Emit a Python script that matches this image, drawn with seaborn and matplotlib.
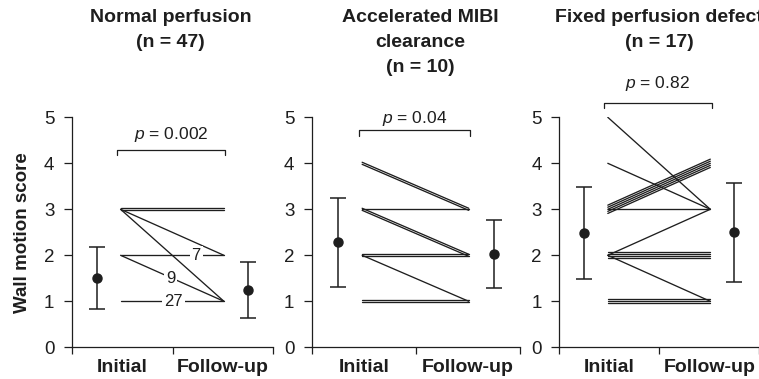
import numpy as np
import pandas as pd
import matplotlib
matplotlib.use("Agg")
import matplotlib.pyplot as plt
import matplotlib.transforms as mtrans
import seaborn as sns

# ---------------- data ----------------
titles = ["Normal perfusion\n(n = 47)",
          "Accelerated MIBI\nclearance\n(n = 10)",
          "Fixed perfusion defect\n(n = 17)"]
p_values = ["0.002", "0.04", "0.82"]
x_labels = ["Initial", "Follow-up"]
y_label = "Wall motion score"

# paired transitions (initial score -> follow-up score, number of patients)
p1_initial = [3, 3, 3, 2, 2, 1]
p1_followup = [3, 2, 1, 2, 1, 1]
p1_count = [2, 1, 1, 7, 9, 27]
p1_labelled = [False, False, False, True, True, True]

p2_initial = [4, 3, 3, 2, 2, 1]
p2_followup = [3, 3, 2, 2, 1, 1]
p2_count = [2, 1, 2, 2, 1, 2]
p2_labelled = [False] * 6

p3_initial = [5, 4, 3, 3, 2, 2, 2, 1]
p3_followup = [3, 3, 4, 3, 3, 2, 1, 1]
p3_count = [1, 1, 5, 1, 1, 4, 1, 3]
p3_labelled = [False] * 8

# mean +/- SD summaries
mean_initial = [1.50, 2.28, 2.49]
sd_initial = [0.67, 0.97, 1.00]
mean_followup = [1.25, 2.02, 2.50]
sd_followup = [0.61, 0.74, 1.08]

panels = [
    (p1_initial, p1_followup, p1_count, p1_labelled),
    (p2_initial, p2_followup, p2_count, p2_labelled),
    (p3_initial, p3_followup, p3_count, p3_labelled),
]

# ---------------- style ----------------
sns.set_theme(style="ticks")
plt.rcParams["font.family"] = ["Liberation Sans", "DejaVu Sans"]
plt.rcParams["mathtext.fontset"] = "custom"
plt.rcParams["mathtext.it"] = "Liberation Sans:italic"
plt.rcParams["mathtext.rm"] = "Liberation Sans"
INK = "#1e1e1e"

fig = plt.figure(figsize=(7.59, 3.79), dpi=100)
W, H = 759.0, 379.0
ax_px = [(71.7, 201.6), (311.7, 208.0), (559.3, 200.0)]
bottom = (H - 347.3) / H
height = 230.0 / H

X0, X1 = 0.97, 3.02      # line endpoints
XE0, XE1 = 0.5, 3.5      # error bar positions
spacing = 0.045
bracket_y = [4.30, 4.72, 5.32]
ptext_y = [4.53, 4.88, 5.64]
title_x = [0.49, 0.52, 0.5]
label_pos = {3: (2.47, 2.0), 4: (1.96, 1.5), 5: (2.02, 1.0)}

for k, (ini, fu, cnt, lab) in enumerate(panels):
    left, width = ax_px[k]
    ax = fig.add_axes([left / W, bottom, width / W, height])

    rows = []
    uid = 0
    for j, (a, b, n, is_lab) in enumerate(zip(ini, fu, cnt, lab)):
        nlines = 1 if is_lab else n
        for i in range(nlines):
            off = (i - (nlines - 1) / 2.0) * spacing
            rows.append({"x": X0, "y": a + off, "line": uid})
            rows.append({"x": X1, "y": b + off, "line": uid})
            uid += 1
    df = pd.DataFrame(rows)
    sns.lineplot(data=df, x="x", y="y", units="line", estimator=None,
                 color=INK, lw=0.95, ax=ax, legend=False, sort=False)

    if k == 0:
        for j, (n, is_lab) in enumerate(zip(cnt, lab)):
            if is_lab:
                lx, ly = label_pos[j]
                ax.text(lx, ly, str(n), ha="center", va="center", fontsize=12,
                        color=INK, zorder=5,
                        bbox=dict(boxstyle="square,pad=0.12", fc="white", ec="none"))

    ax.errorbar([XE0], [mean_initial[k]], yerr=[sd_initial[k]], fmt="o",
                color=INK, ms=6.5, capsize=6, elinewidth=1.1, capthick=1.1)
    ax.errorbar([XE1], [mean_followup[k]], yerr=[sd_followup[k]], fmt="o",
                color=INK, ms=6.5, capsize=6, elinewidth=1.1, capthick=1.1)

    ax.set_xlim(0, 4)
    ax.set_ylim(0, 5)
    ax.set_yticks(range(6))
    ax.set_yticklabels([str(v) for v in range(6)])
    ax.set_xticks([1, 3])
    ax.set_xticklabels(x_labels, fontsize=14, fontweight="bold", color=INK)
    ax.set_xticks([0, 2, 4], minor=True)
    ax.tick_params(axis="x", which="major", length=0, pad=8.5)
    ax.tick_params(axis="x", which="minor", length=5, width=0.9, direction="out", color=INK)
    ax.tick_params(axis="y", length=5.5, width=0.9, direction="out", pad=7,
                   labelsize=13.5, colors=INK)
    ax.set_xlabel("")
    ax.set_ylabel("")
    for s in ["top", "right"]:
        ax.spines[s].set_visible(False)
    for s in ["left", "bottom"]:
        ax.spines[s].set_color(INK)
        ax.spines[s].set_linewidth(0.9)

    if k == 0:
        ax.set_ylabel(y_label, fontsize=13.5, fontweight="bold", color=INK, labelpad=9)

    # significance bracket
    by = bracket_y[k]
    ax.plot([0.9, 0.9, 3.05, 3.05], [by - 0.12, by, by, by - 0.12],
            color=INK, lw=0.9, clip_on=False)
    ax.text(1.97, ptext_y[k], "$p$ = " + p_values[k], ha="center", va="baseline",
            fontsize=12.5, color=INK, clip_on=False)

    trans = mtrans.blended_transform_factory(ax.transAxes, fig.transFigure)
    ax.text(title_x[k], 1 - 9.5 / H, titles[k], transform=trans, ha="center",
            va="top", fontsize=14, fontweight="bold", color=INK,
            linespacing=1.58, clip_on=False)

fig.savefig("out.png", dpi=100)
